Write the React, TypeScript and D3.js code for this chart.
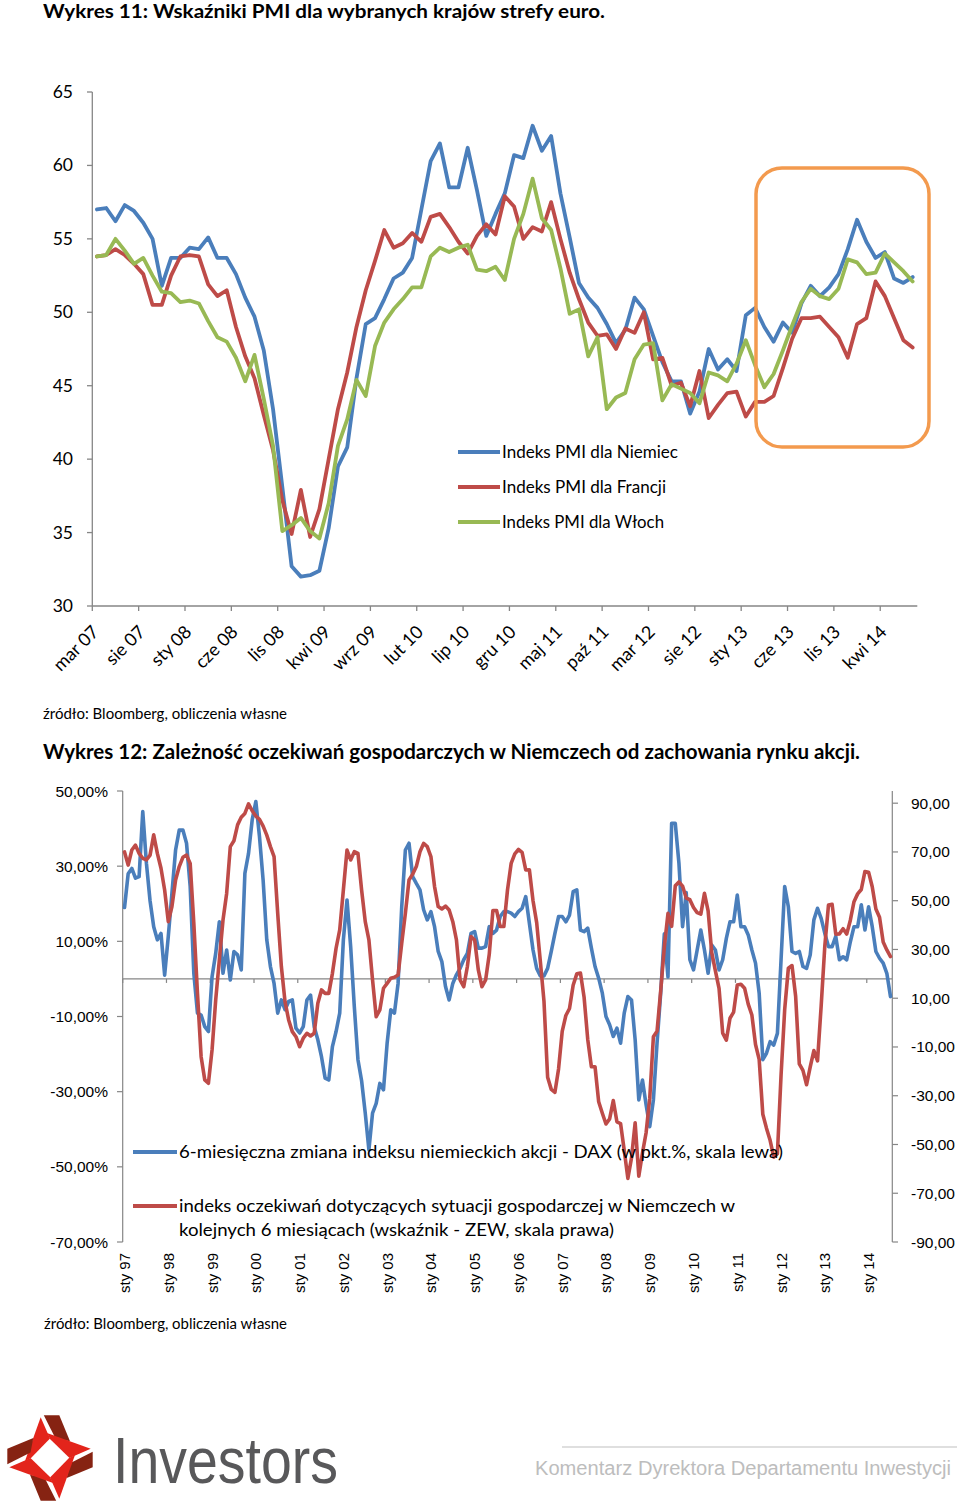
import React from 'react';
import * as d3 from 'd3';

// ---------- Chart 11: PMI ----------
const pmiTickLabels = ['mar 07','sie 07','sty 08','cze 08','lis 08','kwi 09','wrz 09','lut 10','lip 10','gru 10','maj 11','paź 11','mar 12','sie 12','sty 13','cze 13','lis 13','kwi 14'];
const pmiYTicks = [30, 35, 40, 45, 50, 55, 60, 65];
const pmiGermany = [
  57.0,57.1,56.2,57.3,56.9,56.1,55.0,51.8,53.7,53.7,54.4,54.3,55.1,53.7,53.7,52.6,51.0,49.7,47.4,43.4,
  38.1,32.7,32.0,32.1,32.4,35.3,39.5,40.8,45.5,49.2,49.6,50.9,52.3,52.7,53.7,57.0,60.3,61.5,58.5,58.5,
  61.2,58.3,55.2,56.7,58.1,60.7,60.5,62.7,61.0,62.0,58.1,55.1,52.0,51.0,50.3,49.2,47.9,48.8,51.0,50.2,
  48.4,46.6,45.3,45.3,43.1,44.6,47.5,46.1,46.8,46.0,49.8,50.3,49.0,48.0,49.3,48.6,50.6,51.8,51.1,51.7,
  52.6,54.3,56.3,54.8,53.7,54.1,52.3,52.0,52.4];
const pmiFrance = [
  53.8,53.9,54.3,53.9,53.3,52.6,50.5,50.5,52.5,53.8,53.9,53.8,51.9,51.1,51.5,49.0,47.0,45.5,43.0,40.6,
  37.2,34.9,37.9,34.7,36.6,40.0,43.4,45.9,49.0,51.5,53.5,55.6,54.4,54.7,55.4,54.8,56.5,56.7,55.8,54.8,
  54.0,55.2,56.0,55.3,57.9,57.2,55.0,55.8,55.5,57.5,55.0,52.7,50.9,49.3,48.4,48.5,47.5,48.9,48.6,50.0,
  46.8,46.9,45.0,45.2,43.6,46.0,42.8,43.7,44.5,44.6,42.9,43.9,43.9,44.3,46.2,48.2,49.6,49.6,49.7,49.0,
  48.3,46.9,49.2,49.6,52.1,51.1,49.6,48.1,47.6];
const pmiItaly = [
  53.8,53.9,55.0,54.2,53.3,53.7,52.5,51.4,51.3,50.7,50.8,50.6,49.4,48.3,48.0,46.9,45.3,47.1,44.1,40.9,
  35.1,35.5,36.0,35.1,34.6,37.0,40.9,42.7,45.4,44.3,47.7,49.3,50.2,50.9,51.7,51.7,53.8,54.4,54.1,54.4,
  54.6,52.9,52.8,53.1,52.2,55.0,56.7,59.1,56.4,55.6,53.0,49.9,50.2,47.0,48.3,43.4,44.2,44.5,46.8,47.8,
  47.9,44.0,45.1,44.8,44.5,43.8,45.9,45.7,45.3,46.5,48.1,46.4,44.9,45.8,47.4,49.1,50.7,51.6,51.1,50.9,
  51.6,53.6,53.4,52.6,52.7,54.0,53.4,52.8,52.1];
const pmiLegend = ['Indeks PMI dla Niemiec', 'Indeks PMI dla Francji', 'Indeks PMI dla Włoch'];

// ---------- Chart 12: DAX vs ZEW ----------
const yearLabels = ['sty 97','sty 98','sty 99','sty 00','sty 01','sty 02','sty 03','sty 04','sty 05','sty 06','sty 07','sty 08','sty 09','sty 10','sty 11','sty 12','sty 13','sty 14'];
const leftTicks = [50, 30, 10, -10, -30, -50, -70];
const rightTicks = [90, 70, 50, 30, 10, -10, -30, -50, -70, -90];
const daxChange = [
  19.0,28.0,29.4,26.8,27.2,44.5,30.8,20.8,13.9,10.4,12.1,1.0,
  11.3,22.8,34.3,39.6,39.6,36.1,24.6,1.5,-9.1,-9.6,-12.7,-14.0,
  0.6,6.8,15.2,1.5,7.7,-0.3,7.3,6.4,2.4,28.1,33.4,42.3,
  47.2,37.9,26.3,10.4,3.3,-1.2,-9.1,-5.6,-8.2,-6.0,-5.6,-13.1,
  -14.4,-12.7,-5.6,-4.3,-12.7,-16.2,-20.7,-26.4,-26.9,-18.0,-14.0,-9.1,
  10.4,21.0,8.6,-7.4,-21.5,-27.1,-35.7,-45.5,-35.7,-33.1,-27.8,-29.5,
  -17.1,-8.2,-9.1,-1.2,19.2,34.3,36.1,27.2,25.4,23.7,18.4,15.7,
  17.9,13.9,7.3,4.6,-2.0,-5.6,-1.2,1.1,2.8,5.1,6.8,12.1,
  12.6,8.2,8.2,8.6,13.9,12.1,13.0,16.6,17.9,17.9,17.5,16.6,
  17.9,18.8,21.9,14.8,7.7,2.8,0.8,0.8,2.8,7.3,12.1,16.6,
  16.6,15.2,17.0,23.2,23.7,13.0,12.6,13.5,8.2,3.3,0.2,-3.8,
  -10.0,-12.2,-15.3,-13.1,-17.1,-9.1,-4.7,-5.6,-16.2,-32.2,-26.9,-33.5,
  -39.3,-32.2,-17.1,-3.8,12.0,0.5,41.4,41.4,30.8,13.9,23.0,5.1,
  2.4,7.7,13.0,7.7,1.5,9.0,7.7,2.4,5.1,10.8,15.2,15.2,
  22.3,13.9,13.9,11.7,7.7,4.2,-3.8,-21.5,-19.8,-16.7,-17.6,-14.5,
  5.1,24.6,19.2,7.3,6.8,7.3,3.3,2.8,6.4,15.7,18.8,16.1,
  12.1,8.6,8.6,11.3,5.1,5.9,5.1,9.9,13.9,13.9,19.7,13.0,
  19.2,13.9,7.3,5.5,4.2,1.5,-4.7];
const zewIndex = [
  70.0,64.6,70.8,72.8,69.4,67.4,66.7,68.7,77.0,69.4,63.3,54.4,
  41.4,47.6,58.5,64.0,67.8,68.7,65.3,40.7,12.0,-14.0,-23.5,-24.9,
  -11.2,9.3,25.7,42.1,53.0,72.2,74.6,81.1,84.2,85.8,89.7,86.9,
  84.7,83.4,80.6,76.9,72.2,68.1,44.8,23.0,8.6,1.1,-3.7,-5.8,
  -9.9,-6.4,-4.4,-5.5,-4.4,7.9,13.4,12.0,12.0,20.2,30.5,38.0,
  54.4,70.8,66.7,70.1,69.4,54.4,41.4,33.9,17.5,2.4,5.2,14.1,
  16.1,18.2,18.6,19.5,32.5,44.8,58.5,60.9,64.0,70.1,73.5,72.2,
  68.1,55.8,47.6,46.6,47.8,46.2,41.4,33.9,17.5,14.7,23.0,35.3,
  33.9,21.6,14.7,17.5,28.0,46.0,46.0,39.4,39.4,54.4,65.3,69.2,
  71.0,69.8,62.6,62.7,50.0,41.0,25.2,8.8,-22.4,-27.4,-28.6,-19.0,
  -3.6,2.9,5.8,15.3,20.0,20.3,10.4,-6.9,-18.1,-18.1,-32.5,-37.2,
  -41.6,-39.5,-32.0,-40.7,-41.4,-52.4,-63.9,-55.5,-41.1,-63.0,-53.5,-45.2,
  -31.0,-5.8,-3.5,13.0,31.1,44.8,39.5,56.1,57.7,56.0,51.1,50.4,
  47.2,45.1,44.5,53.0,45.8,28.7,21.2,14.0,-4.3,-7.2,1.8,4.3,
  15.4,15.7,14.1,7.6,3.1,-9.0,-15.1,-37.6,-43.3,-48.3,-55.2,-53.8,
  -21.6,5.4,22.3,23.4,10.8,-16.9,-19.6,-25.5,-18.2,-11.5,-15.7,6.9,
  31.5,48.2,48.5,36.3,36.4,38.5,36.3,42.0,49.6,52.8,54.6,62.0,
  61.7,55.7,46.6,43.2,33.1,29.8,27.1];
const daxLegend = '6-miesięczna zmiana indeksu niemieckich akcji - DAX (w pkt.%, skala lewa)';
const zewLegend1 = 'indeks oczekiwań dotyczących sytuacji gospodarczej w Niemczech w';
const zewLegend2 = 'kolejnych 6 miesiącach (wskaźnik - ZEW, skala prawa)';

const BLUE = '#4A7EBB';
const RED = '#BE4B48';
const GREEN = '#98B954';
const AXIS = '#868686';
const CAL = 'Lato, "Open Sans", sans-serif';
const ARIAL = '"Liberation Sans", Arial, sans-serif';
const NARROW = '"Liberation Sans Narrow", "Liberation Sans", sans-serif';

function Logo() {
  const cx = 50, cy = 1458;
  const red = [[-9.3, -40.7], [0, -19.5], [-19, 0], [-25, 3]];
  const dark = [[-6.2, -42.7], [9.3, -42.7], [20, -16.7], [5.5, -19.5]];
  const pts = (p: number[][]) => p.map(([x, y]) => `${cx + x},${cy + y}`).join(' ');
  return (
    <g>
      {[0, 90, 180, 270].map((a) => (
        <g key={a} transform={`rotate(${a},${cx},${cy})`}>
          <polygon points={pts(dark)} fill="#862312" />
          <polygon points={pts(red)} fill="#E3241B" />
        </g>
      ))}
    </g>
  );
}

export default function App() {
  // ---- top chart scales
  const nTop = pmiGermany.length;
  const xTop = d3.scaleBand<number>().domain(d3.range(nTop)).range([92.3, 917.3]);
  const yTop = d3.scaleLinear().domain([30, 65]).range([606, 92]);
  const cTop = (i: number) => (xTop(i) as number) + xTop.bandwidth() / 2;
  const lineTop = d3.line<number>().x((_, i) => cTop(i)).y((v) => yTop(v));

  // ---- bottom chart scales
  const nBot = daxChange.length;
  const xBot = d3.scaleBand<number>().domain(d3.range(nBot)).range([122.7, 892.3]);
  const yL = d3.scaleLinear().domain([-70, 50]).range([1242, 791]);
  const yR = d3.scaleLinear().domain([-90, 95]).range([1242, 791]);
  const cBot = (i: number) => (xBot(i) as number) + xBot.bandwidth() / 2;
  const lineDax = d3.line<number>().x((_, i) => cBot(i)).y((v) => yL(v));
  const lineZew = d3.line<number>().x((_, i) => cBot(i)).y((v) => yR(v));

  const fmt2 = (v: number) => v.toFixed(2).replace('.', ',');

  const seriesStyle = { fill: 'none', strokeWidth: 3.8, strokeLinejoin: 'round' as const, strokeLinecap: 'round' as const };

  return (
    <svg width={960} height={1509} style={{ position: 'absolute', left: 0, top: 0, background: '#fff' }}>
      <rect x={0} y={0} width={960} height={1509} fill="#fff" />
      {/* ===== Chart 11 ===== */}
      <text x={43} y={18} fontFamily={CAL} fontWeight={700} fontSize={19.5} textLength={562} lengthAdjust="spacingAndGlyphs">
        Wykres 11: Wskaźniki PMI dla wybranych krajów strefy euro.
      </text>
      {/* y axis */}
      <line x1={92.3} x2={92.3} y1={yTop(65)} y2={yTop(30)} stroke={AXIS} strokeWidth={1.3} />
      {pmiYTicks.map((t) => (
        <g key={t}>
          <line x1={87} x2={92.3} y1={yTop(t)} y2={yTop(t)} stroke={AXIS} strokeWidth={1.3} />
          <text x={73} y={yTop(t) + 6} textAnchor="end" fontFamily={CAL} fontSize={17.5}>{t}</text>
        </g>
      ))}
      {/* x axis */}
      <line x1={92.3} x2={917.3} y1={yTop(30)} y2={yTop(30)} stroke={AXIS} strokeWidth={1.3} />
      {pmiTickLabels.map((lab, k) => {
        const i = k * 5;
        const xt = xTop(i) as number;
        return (
          <g key={lab}>
            <line x1={xt} x2={xt} y1={yTop(30)} y2={yTop(30) + 5} stroke={AXIS} strokeWidth={1.3} />
            <text transform={`translate(${cTop(i) + 3},${633}) rotate(-45)`} textAnchor="end" fontFamily={CAL} fontSize={18}>{lab}</text>
          </g>
        );
      })}
      {/* series */}
      <path d={lineTop(pmiGermany) || ''} stroke={BLUE} {...seriesStyle} />
      <path d={lineTop(pmiFrance) || ''} stroke={RED} {...seriesStyle} />
      <path d={lineTop(pmiItaly) || ''} stroke={GREEN} {...seriesStyle} />
      {/* highlight box */}
      <rect x={756} y={168} width={173} height={279} rx={26} ry={26} fill="none" stroke="#F39A4E" strokeWidth={3.5} />
      {/* legend */}
      {[BLUE, RED, GREEN].map((c, k) => (
        <g key={c}>
          <line x1={458} x2={500} y1={452 + k * 35} y2={452 + k * 35} stroke={c} strokeWidth={3.8} />
          <text x={502} y={458 + k * 35} fontFamily={CAL} fontSize={16.5} textLength={[176, 164, 162][k]} lengthAdjust="spacingAndGlyphs">{pmiLegend[k]}</text>
        </g>
      ))}
      <text x={43} y={719} fontFamily={CAL} fontSize={15} textLength={244} lengthAdjust="spacingAndGlyphs">źródło: Bloomberg, obliczenia własne</text>

      {/* ===== Chart 12 ===== */}
      <text x={43} y={759} fontFamily={CAL} fontWeight={700} fontSize={20} textLength={817} lengthAdjust="spacingAndGlyphs">
        Wykres 12: Zależność oczekiwań gospodarczych w Niemczech od zachowania rynku akcji.
      </text>
      {/* left axis */}
      <line x1={122.7} x2={122.7} y1={791} y2={1242} stroke={AXIS} strokeWidth={1.2} />
      {leftTicks.map((t) => (
        <g key={'l' + t}>
          <line x1={117} x2={122.7} y1={yL(t)} y2={yL(t)} stroke={AXIS} strokeWidth={1.2} />
          <text x={108} y={yL(t) + 5.5} textAnchor="end" fontFamily={ARIAL} fontSize={15.5}>{fmt2(t)}%</text>
        </g>
      ))}
      {/* right axis */}
      <line x1={892.3} x2={892.3} y1={791} y2={1242} stroke={AXIS} strokeWidth={1.2} />
      {rightTicks.map((t) => (
        <g key={'r' + t}>
          <line x1={892.3} x2={898} y1={yR(t)} y2={yR(t)} stroke={AXIS} strokeWidth={1.2} />
          <text x={911} y={yR(t) + 5.5} fontFamily={ARIAL} fontSize={15.5}>{fmt2(t)}</text>
        </g>
      ))}
      {/* category axis at 0 */}
      <line x1={122.7} x2={892.3} y1={yL(0)} y2={yL(0)} stroke={AXIS} strokeWidth={1.2} />
      {yearLabels.map((lab, k) => {
        const i = k * 12;
        const xt = xBot(i) as number;
        return (
          <g key={lab}>
            <line x1={xt} x2={xt} y1={yL(0)} y2={yL(0) + 4} stroke={AXIS} strokeWidth={1.2} />
            <text transform={`translate(${cBot(i) + 5.5},${1253}) rotate(-90)`} textAnchor="end" fontFamily={ARIAL} fontSize={15}>{lab}</text>
          </g>
        );
      })}
      <path d={lineDax(daxChange) || ''} stroke={BLUE} {...seriesStyle} strokeWidth={3.6} />
      <path d={lineZew(zewIndex) || ''} stroke={RED} {...seriesStyle} strokeWidth={3.6} />
      {/* legend */}
      <line x1={133} x2={177} y1={1152} y2={1152} stroke={BLUE} strokeWidth={3.8} />
      <text x={179} y={1158} fontFamily={CAL} fontSize={17.5} textLength={604} lengthAdjust="spacingAndGlyphs">{daxLegend}</text>
      <line x1={133} x2={177} y1={1206} y2={1206} stroke={RED} strokeWidth={3.8} />
      <text x={179} y={1212} fontFamily={CAL} fontSize={17.5} textLength={556} lengthAdjust="spacingAndGlyphs">{zewLegend1}</text>
      <text x={179} y={1236} fontFamily={CAL} fontSize={17.5} textLength={435} lengthAdjust="spacingAndGlyphs">{zewLegend2}</text>
      <text x={44} y={1329} fontFamily={CAL} fontSize={15} textLength={243} lengthAdjust="spacingAndGlyphs">źródło: Bloomberg, obliczenia własne</text>

      {/* ===== Footer ===== */}
      <Logo />
      <text x={113} y={1483} fontFamily={NARROW} fontSize={64} fill="#58585A" textLength={225} lengthAdjust="spacingAndGlyphs">Investors</text>
      <line x1={562} x2={957} y1={1447} y2={1447} stroke="#D5D5D5" strokeWidth={1.5} />
      <text x={535} y={1475} fontFamily={NARROW} fontSize={20} fill="#BDBDBD" textLength={416} lengthAdjust="spacingAndGlyphs">Komentarz Dyrektora Departamentu Inwestycji</text>
    </svg>
  );
}
